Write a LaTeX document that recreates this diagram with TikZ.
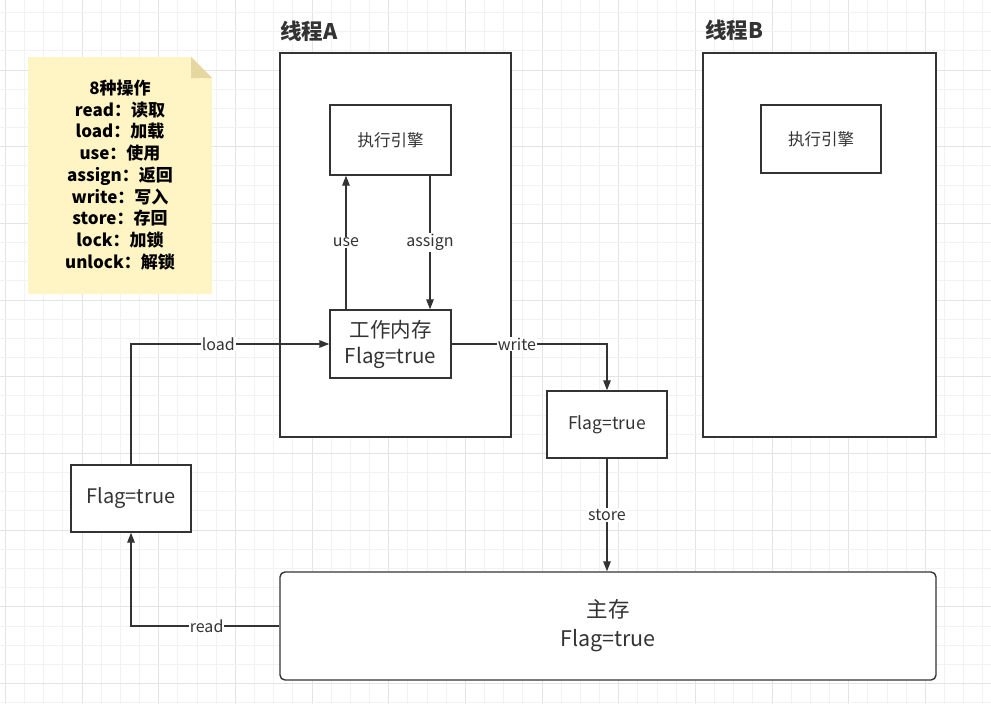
\documentclass[tikz,border=0pt]{standalone}
\usepackage{fontspec}
\setmainfont{Noto Sans CJK SC}
\usetikzlibrary{arrows.meta}
\definecolor{ln}{HTML}{333333}
\definecolor{gmin}{HTML}{F2F2F2}
\definecolor{gmaj}{HTML}{E4E4E4}
\definecolor{notefill}{HTML}{FFF4C3}
\definecolor{notefold}{HTML}{E6D7A0}
\tikzset{
  box/.style={draw=ln, line width=1.4pt, fill=white, text=ln, align=center, inner sep=0pt},
  ttl/.style={text=ln, font=\fontsize{21.5}{24}\selectfont\bfseries, inner sep=0pt, anchor=west},
  arr/.style={draw=ln, line width=1.3pt, -{Triangle[length=10pt,width=7.5pt]}},
  lbl/.style={fill=white, text=ln, inner sep=1pt, font=\fontsize{16}{18}\selectfont},
}
\begin{document}
\begin{tikzpicture}[x=1pt,y=-1pt]
\useasboundingbox (0,0) rectangle (991,704);
\fill[white] (0,0) rectangle (991,704);
% grid
\foreach \i in {0,...,52} {
  \pgfmathsetmacro{\xx}{5.33+19.167*\i}
  \pgfmathtruncatemacro{\m}{mod(\i,4)}
  \ifnum\m=0 \draw[gmaj, line width=0.9pt] (\xx,0) -- (\xx,704);
  \else \draw[gmin, line width=0.9pt] (\xx,0) -- (\xx,704); \fi
}
\foreach \j in {0,...,37} {
  \pgfmathsetmacro{\yy}{12.6+19.167*\j}
  \pgfmathtruncatemacro{\m}{mod(\j,4)}
  \ifnum\m=3 \draw[gmaj, line width=0.9pt] (0,\yy) -- (991,\yy);
  \else \draw[gmin, line width=0.9pt] (0,\yy) -- (991,\yy); \fi
}
% note
\fill[notefill] (28,57) -- (191,57) -- (212,78) -- (212,294) -- (28,294) -- cycle;
\fill[notefold] (191,57) -- (191,78) -- (212,78) -- cycle;
\node[align=center, text=black, font=\fontsize{17}{21.75}\selectfont\bfseries, inner sep=0pt] (note) at (120,175)
  {8种操作\\read：读取\\load：加载\\use：使用\\assign：返回\\write：写入\\store：存回\\lock：加锁\\unlock：解锁};
% thread A
\node[ttl] (tal) at (280,31) {线程A};
\node[box, minimum width=231pt, minimum height=384pt] (ta) at (395.5,245) {};
\node[box, minimum width=121pt, minimum height=70pt, font=\fontsize{16.5}{18}\selectfont] (ea) at (390.5,140) {执行引擎};
\node[box, minimum width=121pt, minimum height=68pt, font=\fontsize{20.5}{26}\selectfont] (wm) at (390.5,344) {工作内存\\Flag=true};
% thread B
\node[ttl] (tbl) at (705,30) {线程B};
\node[box, minimum width=233pt, minimum height=384pt] (tb) at (819.5,245) {};
\node[box, minimum width=120pt, minimum height=68pt, font=\fontsize{16.5}{18}\selectfont] (eb) at (821,139) {执行引擎};
% other boxes
\node[box, minimum width=120pt, minimum height=67pt, font=\fontsize{17.5}{20}\selectfont] (mid) at (607,424.5) {Flag=true};
\node[box, minimum width=120pt, minimum height=67pt, font=\fontsize{20}{22}\selectfont] (left) at (131,498.5) {Flag=true};
\node[box, rounded corners=5pt, minimum width=656pt, minimum height=108pt, font=\fontsize{21.5}{29}\selectfont] (main) at (608,626) {主存\\Flag=true};
% connectors
\draw[arr] ([xshift=-44.5pt]wm.north) -- ([xshift=-44.5pt]ea.south) node[lbl, midway] {use};
\draw[arr] ([xshift=39.5pt]ea.south) -- ([xshift=39.5pt]wm.north) node[lbl, midway] {assign};
\draw[arr] (left.north) |- (wm.west) node[lbl, pos=0.72] {load};
\draw[arr] (wm.east) -| (mid.north) node[lbl, pos=0.21] {write};
\draw[arr] (mid.south) -- (mid.south |- main.north) node[lbl, midway] {store};
\draw[arr] (main.west) -| (left.south) node[lbl, pos=0.245] {read};
\end{tikzpicture}
\end{document}
